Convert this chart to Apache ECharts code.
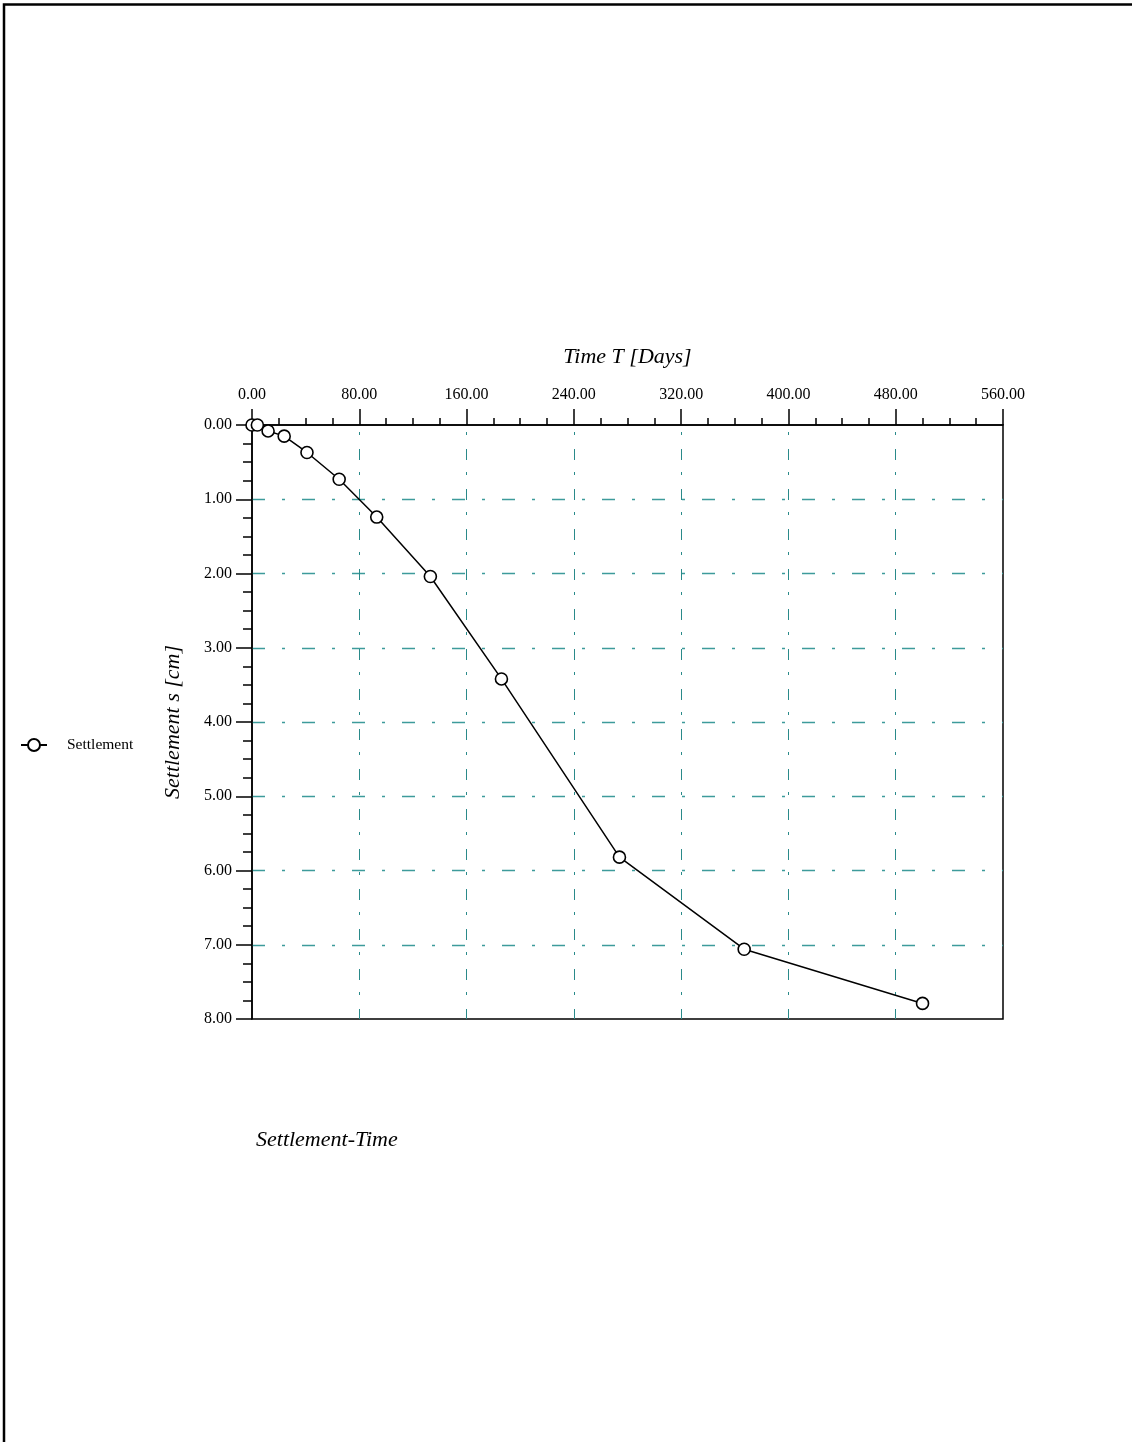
<!DOCTYPE html>
<html>
<head>
<meta charset="utf-8">
<title>Settlement-Time</title>
<script src="https://cdn.jsdelivr.net/npm/echarts@6/dist/echarts.min.js"></script>
<style>
  html, body { margin: 0; padding: 0; background: #fff; }
  #chart { width: 1132px; height: 1442px; }
</style>
</head>
<body>
<div id="chart"></div>
<script>
// Measured time (days) and settlement (cm)
const days = [0, 4, 12, 24, 41, 65, 93, 133, 186, 274, 367, 500];
const settlement = [0, 0, 0.08, 0.15, 0.37, 0.73, 1.24, 2.04, 3.42, 5.82, 7.06, 7.79];

// Axis ranges and tick steps
const xRange = [0, 560];
const xStep = 80;
const yRange = [0, 8];
const yStep = 1;

const seriesName = 'Settlement';
const xTitle = 'Time T [Days]';
const yTitle = 'Settlement s [cm]';
const chartTitle = 'Settlement-Time';

const serif = '"Liberation Serif", "DejaVu Serif", serif';

const chart = echarts.init(document.getElementById('chart'), null, { renderer: 'canvas' });

chart.setOption({
  backgroundColor: '#fff',
  animation: false,
  title: {
    text: chartTitle,
    left: 256,
    top: 1129,
    padding: 0,
    textStyle: { fontFamily: serif, fontStyle: 'italic', fontWeight: 'normal', fontSize: 22, color: '#000' }
  },
  legend: {
    data: [seriesName],
    left: 20,
    top: 737,
    orient: 'vertical',
    itemWidth: 26,
    itemHeight: 15,
    itemGap: 0,
    padding: 0,
    textStyle: { fontFamily: serif, fontSize: 15.5, color: '#000', padding: [0, 0, 0, 15] }
  },
  graphic: [{
    type: 'polyline',
    shape: { points: [[4, 1442], [4, 4.5], [1132, 4.5]] },
    style: { stroke: '#000', lineWidth: 2.5, fill: null },
    silent: true
  }],
  grid: {
    left: 252,
    top: 425,
    width: 751,
    height: 594,
    show: true,
    borderColor: '#000',
    borderWidth: 1.5,
    backgroundColor: 'transparent'
  },
  xAxis: {
    type: 'value',
    position: 'top',
    min: xRange[0],
    max: xRange[1],
    interval: xStep,
    name: xTitle,
    nameLocation: 'middle',
    nameGap: 57,
    nameTextStyle: { fontFamily: serif, fontStyle: 'italic', fontSize: 22, color: '#000' },
    axisLine: { show: true, lineStyle: { color: '#000', width: 1.5 } },
    axisTick: { show: true, inside: false, length: 16, lineStyle: { color: '#000', width: 1.5 } },
    minorTick: { show: true, splitNumber: 4, length: 7, lineStyle: { color: '#000', width: 1.5 } },
    axisLabel: {
      fontFamily: serif, fontSize: 16, color: '#000', margin: 22,
      formatter: v => v.toFixed(2)
    },
    splitLine: {
      show: true,
      showMinLine: false,
      showMaxLine: false,
      lineStyle: { color: '#2a8a8a', width: 1, type: [11, 12, 3, 14], dashOffset: 16 }
    }
  },
  yAxis: {
    type: 'value',
    inverse: true,
    min: yRange[0],
    max: yRange[1],
    interval: yStep,
    name: yTitle,
    nameLocation: 'middle',
    nameGap: 68,
    nameRotate: 90,
    nameTextStyle: { fontFamily: serif, fontStyle: 'italic', fontSize: 22, color: '#000' },
    axisLine: { show: true, lineStyle: { color: '#000', width: 1.5 } },
    axisTick: { show: true, inside: false, length: 16, lineStyle: { color: '#000', width: 1.5 } },
    minorTick: { show: true, splitNumber: 4, length: 9, lineStyle: { color: '#000', width: 1.5 } },
    axisLabel: {
      fontFamily: serif, fontSize: 16, color: '#000', margin: 20,
      formatter: v => v.toFixed(2)
    },
    splitLine: {
      show: true,
      showMinLine: false,
      showMaxLine: false,
      lineStyle: { color: '#3d9b9b', width: 1.4, type: [13, 17, 3, 17], dashOffset: 0 }
    }
  },
  series: [{
    name: seriesName,
    type: 'line',
    data: days.map((d, i) => [d, settlement[i]]),
    clip: false,
    symbol: 'circle',
    symbolSize: 12,
    showSymbol: true,
    z: 5,
    lineStyle: { color: '#000', width: 1.5 },
    itemStyle: { color: '#fff', borderColor: '#000', borderWidth: 1.6 }
  }]
});
</script>
</body>
</html>
